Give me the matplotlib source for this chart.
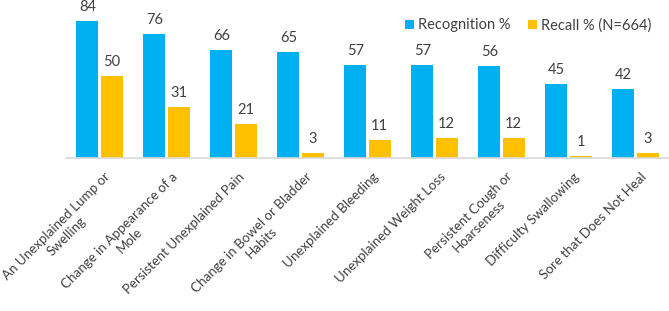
import matplotlib.pyplot as plt
import numpy as np

# Dados
categorias = ["An Unexplained Lump or\nSwelling", "Change in Appearance of a\nMole",
              "Persistent Unexplained Pain", "Change in Bowel or Bladder\nHabits",
              "Unexplained Bleeding", "Unexplained Weight Loss",
              "Persistent Cough or\nHoarseness", "Difficulty Swallowing",
              "Sore that Does Not Heal"]
recognition = [84, 76, 66, 65, 57, 57, 56, 45, 42]
recall = [50, 31, 21, 3, 11, 12, 12, 1, 3]

azul = '#00B0F0'
amarelo = '#FFC000'
cinza = '#404040'

plt.rcParams['font.family'] = ['Lato', 'DejaVu Sans']

fig = plt.figure(figsize=(6.69, 3.11), dpi=100)
ax = fig.add_axes([66 / 669, 153 / 311, 603 / 669, 158 / 311])

x = np.arange(len(categorias))
w = 0.33
b1 = ax.bar(x - w / 2 - 0.015, recognition, w, color=azul, label='Recognition %')
b2 = ax.bar(x + w / 2 + 0.015, recall, w, color=amarelo, label='Recall % (N=664)')

for barras in (b1, b2):
    for b in barras:
        ax.annotate(str(int(b.get_height())), (b.get_x() + b.get_width() / 2, b.get_height()),
                    xytext=(0, 5), textcoords='offset points', ha='center', va='bottom',
                    fontsize=10.5, color=cinza, annotation_clip=False)

ax.set_xlim(-0.5, len(categorias) - 0.5)
ax.set_ylim(0, 96.6)
ax.set_yticks([])
for s in ['top', 'right', 'left']:
    ax.spines[s].set_visible(False)
ax.spines['bottom'].set_color('#D9D9D9')
ax.spines['bottom'].set_linewidth(1.2)

ax.set_xticks(x + 0.07)
ax.set_xticklabels(categorias, rotation=45, ha='right', rotation_mode='anchor',
                   fontsize=9.6, color=cinza, multialignment='center')
ax.tick_params(axis='x', length=0, pad=9)

fig.legend(handles=[b1, b2], loc='upper left', bbox_to_anchor=(392 / 669, 1 - 5 / 311),
           ncol=2, frameon=False, fontsize=10.5, labelcolor=cinza, handlelength=0.6,
           handleheight=0.6, handletextpad=0.3, columnspacing=1.2)

plt.savefig('out.png', dpi=100)
plt.close()
